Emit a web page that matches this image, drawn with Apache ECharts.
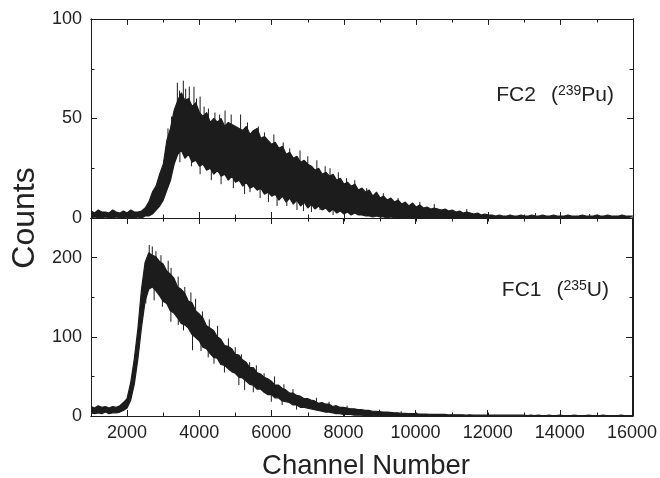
<!DOCTYPE html>
<html>
<head>
<meta charset="utf-8">
<script src="https://cdn.jsdelivr.net/npm/echarts@6/dist/echarts.min.js"></script>
<style>
  html, body { margin: 0; padding: 0; background: #fff; }
  #chart { width: 660px; height: 478px; }
</style>
</head>
<body>
<div id="chart"></div>
<script>
// Pulse-height spectra of two fission chambers, binned every 100 channels.
// For each bin the band runs from the low to the high edge of the counts;
// isolated counts that stand out of the band are listed separately as spikes.
const CH_START = 1000;
const CH_STEP = 100;

// FC2 (239Pu), channels 1000 … 16000
const fc2High = [
  3.5, 2.5, 4, 3, 3, 2.5, 4, 3, 2.5, 3.5, 2.5, 4, 3, 3, 3.5,
  5, 8, 13, 16, 22, 27, 39, 45, 54, 59,
  63, 59, 60, 56, 58, 53, 51, 53, 48, 50,
  48, 50, 46, 48, 47, 46, 45, 44, 46, 42,
  44, 45, 40, 41, 39, 37, 38, 35, 36, 32,
  33, 30, 31, 28, 29, 27, 26, 24, 25, 22,
  23, 21, 22, 19, 20, 17, 18, 16, 17, 14,
  15, 13, 14, 11, 13, 10, 11, 9, 10, 8,
  9, 7, 8, 6, 7.5, 5.5, 6.5, 5, 5.5, 4.5,
  5, 4.5, 4, 4.5, 3.5, 4, 3, 3.5, 2.5, 3,
  2.5, 2, 2.5, 1.5, 2, 1.5, 1.5, 1, 1.5, 1,
  1, 1.5, 1, 1, 1.5, 1, 1, 1.5, 1, 1,
  1.5, 1, 1, 1.5, 1, 1, 1, 1.5, 1, 1,
  1, 1.5, 1, 1, 1, 1.5, 1, 1, 1.5, 1,
  1, 1, 1.5, 1, 1, 1
];
const fc2Low = [
  0, 0.5, 0, 0, 0.5, 0, 0, 0.5, 0, 0, 0.5, 0, 0, 0.5, 0,
  1, 1, 2, 4, 6, 9, 14, 19, 27, 32,
  34, 30, 32, 28, 29, 26, 27, 24, 25, 22,
  24, 21, 22, 19, 21, 18, 19, 16, 18, 15,
  16, 14, 15, 12, 13, 11, 12, 9, 11, 8,
  10, 7, 9, 6, 8, 5, 7, 4.5, 6, 4,
  5, 3, 4.5, 2.5, 3.5, 2, 3, 1.5, 2.5, 1.5,
  1.5, 1, 1, 0.5, 1, 0.5, 0.5, 0, 0.5, 0,
  0, 0, 0, 0, 0, 0, 0, 0, 0, 0,
  0, 0, 0, 0, 0, 0, 0, 0, 0, 0,
  0, 0, 0, 0, 0, 0, 0, 0, 0, 0,
  0, 0, 0, 0, 0, 0, 0, 0, 0, 0,
  0, 0, 0, 0, 0, 0, 0, 0, 0, 0,
  0, 0, 0, 0, 0, 0, 0, 0, 0, 0,
  0, 0, 0, 0, 0, 0
];
// [channel, count inside the band, spike tip]
const fc2Spikes = [
  [3130, 38, 45], [3230, 45, 51], [3390, 55, 68], [3450, 55, 64], [3555, 56, 69],
  [3620, 56, 65], [3720, 55, 66], [3850, 54, 66], [3920, 52, 60], [4020, 50, 61],
  [4130, 49, 56], [4250, 48, 55], [4430, 46, 53], [4560, 45, 52], [4710, 45, 54],
  [4880, 44, 52], [5140, 42, 52], [5330, 41, 48], [5590, 40, 45], [5630, 40, 46],
  [5800, 37, 43], [6060, 35, 42], [6320, 32, 38], [6500, 30, 35], [6785, 27, 34],
  [7000, 25, 31], [7250, 23, 29], [7480, 21, 26], [7615, 20, 25], [7845, 18, 23],
  [8070, 16, 20], [8300, 15, 19], [8630, 12, 15], [9090, 9, 12.5], [9500, 7, 10],
  [10100, 5, 8], [10500, 4, 7], [11400, 2, 4.5], [13300, 0.5, 2.5], [14800, 0.5, 2],
  [3460, 33, 28], [3780, 30, 26], [4020, 28, 22], [4330, 25, 19], [4600, 23, 17],
  [4940, 21, 15], [5250, 18, 12], [5400, 17, 13], [5680, 15, 10], [5910, 13, 8],
  [6150, 12, 6], [6420, 10, 6], [6700, 9, 4], [6880, 8, 3.5], [7100, 7, 3],
  [7340, 6, 4], [7700, 5, 1.5]
];

// FC1 (235U), channels 1000 … 16000
const fc1High = [
  12, 10, 13, 11, 12, 10, 12, 11, 13, 17,
  22, 42, 72, 110, 160, 194, 206, 203, 201, 195,
  192, 183, 179, 174, 163, 160, 155, 145, 143, 133,
  129, 124, 114, 111, 108, 100, 97, 89, 88, 85,
  78, 77, 71, 68, 61, 61, 55, 53, 49, 47,
  44, 39, 39, 35, 33, 29, 29, 26, 25, 22,
  22, 20, 19, 16, 17, 15, 15, 12, 13, 11,
  11, 10, 9, 9, 8, 8, 7, 7, 6, 6,
  5.5, 5, 5, 4.5, 4, 4, 3.5, 3.5, 3, 3,
  3, 2.5, 2.5, 2.5, 2, 2, 2, 2, 2, 1.5,
  1.5, 1.5, 1.5, 1.5, 1, 1.5, 1, 1, 1, 1,
  1, 1, 1, 1, 1, 1, 1, 1, 1, 1,
  1, 0.5, 1, 0.5, 1, 0.5, 0.5, 1, 0.5, 0.5,
  1, 0.5, 0.5, 0.5, 1, 0.5, 0.5, 0.5, 1, 0.5,
  0.5, 0.5, 1, 0.5, 0.5, 0.5, 0.5, 1, 0.5, 0.5,
  0.5
];
const fc1Low = [
  4, 3, 4, 3, 5, 3, 4, 4, 5, 7,
  10, 20, 40, 72, 112, 145, 160, 163, 158, 152,
  145, 142, 133, 130, 124, 117, 115, 111, 103, 99,
  95, 87, 85, 79, 74, 73, 65, 64, 60, 56,
  54, 49, 48, 44, 40, 39, 34, 34, 30, 27,
  27, 23, 23, 19, 18, 17, 14, 14, 11, 11,
  10, 9, 8, 7, 6, 5, 5, 4, 3, 3,
  2, 2, 2, 1, 1, 1, 0.5, 0.5, 0.5, 0,
  0, 0, 0, 0, 0, 0, 0, 0, 0, 0,
  0, 0, 0, 0, 0, 0, 0, 0, 0, 0,
  0, 0, 0, 0, 0, 0, 0, 0, 0, 0,
  0, 0, 0, 0, 0, 0, 0, 0, 0, 0,
  0, 0, 0, 0, 0, 0, 0, 0, 0, 0,
  0, 0, 0, 0, 0, 0, 0, 0, 0, 0,
  0, 0, 0, 0, 0, 0, 0, 0, 0, 0,
  0
];
const fc1Spikes = [
  [2615, 200, 216], [2700, 200, 214], [2800, 196, 208], [2940, 190, 203], [3140, 180, 196],
  [3220, 175, 187], [3417, 160, 176], [3600, 150, 163], [3770, 140, 156], [3900, 130, 148],
  [4090, 122, 132], [4280, 110, 122], [4510, 98, 114], [4810, 84, 98], [5000, 76, 87],
  [5170, 70, 78], [5400, 60, 68], [5585, 54, 64], [5800, 46, 54], [6090, 39, 50],
  [6350, 32, 40], [6600, 26, 34], [7250, 17, 23], [7600, 13, 18], [8100, 9, 13],
  [9000, 5, 8], [9600, 3, 6],
  [2520, 150, 142], [2750, 165, 146], [2980, 150, 138], [3215, 136, 119], [3420, 126, 115],
  [3565, 120, 108], [3815, 106, 83], [4050, 95, 82], [4250, 85, 74], [4410, 77, 66],
  [4700, 64, 55], [5100, 52, 39], [5260, 48, 33], [5500, 40, 30], [6000, 28, 18],
  [6300, 21, 14], [6700, 14, 8]
];

// Tick positions
const xMajorTicks = [2000, 4000, 6000, 8000, 10000, 12000, 14000, 16000];
const topMajorTicks = [0, 50, 100];
const bottomMajorTicks = [0, 100, 200];

const FONT = '"Liberation Sans", Arial, Helvetica, sans-serif';
const INK = '#1c1c1c';
const TEXT = '#222';

const channel = (i) => CH_START + i * CH_STEP;
// Points are stored as [count, channel] so that the stack runs along the count axis.
const lowPoints = (lo) => lo.map((v, i) => [v, channel(i)]);
const spanPoints = (hi, lo) => hi.map((v, i) => [Math.max(0, v - lo[i]), channel(i)]);

// Two panels, each drawn as a "major tick" grid plus an overlaid "minor tick" grid
const LEFT = 91, WIDTH = 542;
const panels = [
  { top: 19, height: 199, yMax: 100, major: topMajorTicks, minorStep: 25 },
  { top: 218, height: 198, yMax: 250, major: bottomMajorTicks, minorStep: 50 }
];

const grids = [], xAxes = [], yAxes = [];
const axisLine = { show: true, onZero: false, lineStyle: { color: INK, width: 1 } };
const labelStyle = { color: TEXT, fontSize: 18, fontFamily: FONT, formatter: (v) => String(v) };

panels.forEach((p, pi) => {
  ['major', 'minor'].forEach((kind) => {
    const g = grids.length;
    grids.push({ left: LEFT, width: WIDTH, top: p.top, height: p.height, containLabel: false });
    const isMajor = kind === 'major';
    ['bottom', 'top'].forEach((pos) => {
      const withLabels = isMajor && pos === 'bottom' && pi === 1;
      xAxes.push({
        type: 'value', gridIndex: g, position: pos, z: 5,
        min: 1000, max: 16000, interval: 1000,
        axisLine,
        axisTick: isMajor
          ? { show: true, inside: true, length: 6, customValues: xMajorTicks, lineStyle: { color: INK, width: 1 } }
          : { show: true, inside: true, length: 3.5, lineStyle: { color: INK, width: 1 } },
        axisLabel: withLabels
          ? Object.assign({ show: true, margin: 8, customValues: xMajorTicks }, labelStyle)
          : { show: false },
        splitLine: { show: false }
      });
    });
    ['left', 'right'].forEach((pos) => {
      const withLabels = isMajor && pos === 'left';
      yAxes.push({
        type: 'value', gridIndex: g, position: pos, z: 5,
        min: 0, max: p.yMax,
        interval: isMajor ? 50 : p.minorStep,
        axisLine,
        axisTick: isMajor
          ? { show: true, inside: true, length: 6, customValues: p.major, lineStyle: { color: INK, width: 1 } }
          : { show: true, inside: true, length: 3.5, lineStyle: { color: INK, width: 1 } },
        axisLabel: withLabels
          ? Object.assign({ show: true, margin: 9, customValues: p.major }, labelStyle)
          : { show: false },
        splitLine: { show: false }
      });
    });
  });
});

function bandSeries(name, axisIndex, hi, lo, spikes) {
  const common = {
    type: 'line', xAxisIndex: axisIndex, yAxisIndex: axisIndex,
    stack: name, stackStrategy: 'all',
    encode: { x: 1, y: 0 },
    showSymbol: false, symbol: 'none', silent: true,
    animation: false, smooth: false, z: 2
  };
  return [
    Object.assign({}, common, {
      name: name + ' low',
      data: lowPoints(lo),
      lineStyle: { color: INK, width: 1.2 }
    }),
    Object.assign({}, common, {
      name: name,
      data: spanPoints(hi, lo),
      lineStyle: { color: INK, width: 1.2 },
      areaStyle: { color: INK, opacity: 1 }
    }),
    {
      type: 'custom', name: name + ' spikes',
      xAxisIndex: axisIndex, yAxisIndex: axisIndex,
      silent: true, animation: false, z: 3,
      encode: { x: 0, y: [1, 2] },
      data: spikes,
      renderItem: (params, api) => {
        const a = api.coord([api.value(0), api.value(1)]);
        const b = api.coord([api.value(0), api.value(2)]);
        return {
          type: 'line',
          shape: { x1: a[0], y1: a[1], x2: b[0], y2: b[1] },
          style: { stroke: INK, lineWidth: 1 }
        };
      }
    }
  ];
}

const supLabel = (x, y, text) => ({
  type: 'text', x, y, z: 10,
  style: {
    text,
    textAlign: 'right', textVerticalAlign: 'middle',
    rich: {
      m: { fontSize: 21, fontFamily: FONT, fill: TEXT },
      p: { fontSize: 21, fontFamily: FONT, fill: TEXT, padding: [0, 0, 0, 15] },
      s: { fontSize: 14, fontFamily: FONT, fill: TEXT, verticalAlign: 'top' }
    }
  }
});

const chart = echarts.init(document.getElementById('chart'), null, { renderer: 'canvas' });
chart.setOption({
  animation: false,
  backgroundColor: '#fff',
  textStyle: { fontFamily: FONT },
  grid: grids,
  xAxis: xAxes,
  yAxis: yAxes,
  series: [
    ...bandSeries('FC2', 0, fc2High, fc2Low, fc2Spikes),
    ...bandSeries('FC1', 4, fc1High, fc1Low, fc1Spikes)
  ],
  graphic: [
    {
      type: 'text', x: 25, y: 218, rotation: Math.PI / 2, z: 10,
      style: { text: 'Counts', fill: TEXT, font: '32px ' + FONT, textAlign: 'center', textVerticalAlign: 'middle' }
    },
    {
      type: 'text', x: 366, y: 466, z: 10,
      style: { text: 'Channel Number', fill: TEXT, font: '27.5px ' + FONT, textAlign: 'center', textVerticalAlign: 'middle' }
    },
    supLabel(614, 95, '{m|FC2}{p|(}{s|239}{m|Pu)}'),
    supLabel(609, 290, '{m|FC1}{p|(}{s|235}{m|U)}')
  ]
});
</script>
</body>
</html>
